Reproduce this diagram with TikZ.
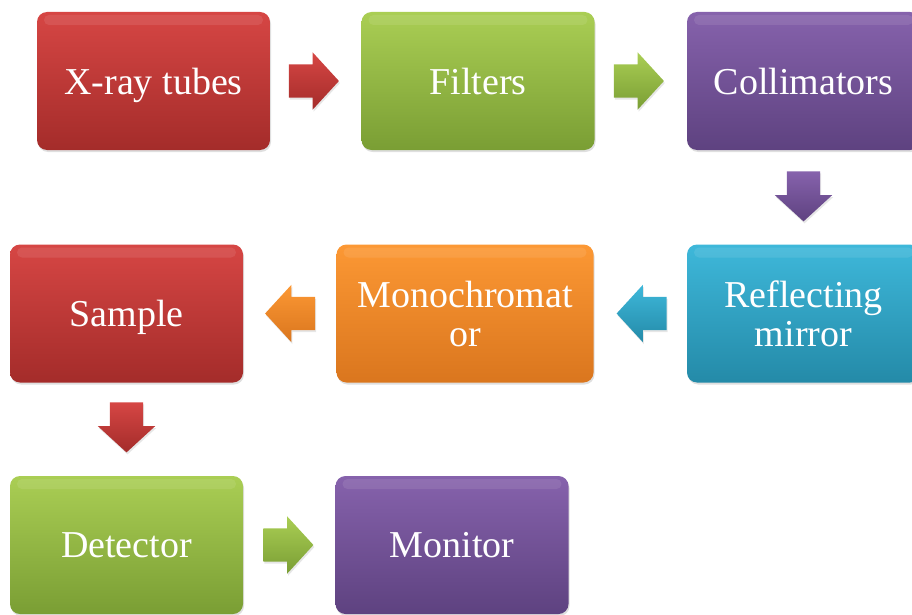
\documentclass[tikz,border=0pt]{standalone}
\usepackage{fontspec}
\setmainfont{Liberation Serif}
\usetikzlibrary{shapes.arrows,shadows,calc}

\definecolor{redtop}{RGB}{214,70,68}
\definecolor{redbot}{RGB}{164,44,42}
\definecolor{greentop}{RGB}{170,206,84}
\definecolor{greenbot}{RGB}{122,158,52}
\definecolor{purpletop}{RGB}{134,98,172}
\definecolor{purplebot}{RGB}{94,66,128}
\definecolor{cyantop}{RGB}{62,184,218}
\definecolor{cyanbot}{RGB}{36,138,168}
\definecolor{orangetop}{RGB}{252,152,52}
\definecolor{orangebot}{RGB}{218,118,30}

\tikzset{
  stage/.style={rounded corners=10pt, minimum width=233pt, minimum height=138pt,
    inner sep=0pt, align=center, text=white, text depth=0pt,
    font=\fontsize{38}{39}\selectfont,
    drop shadow={opacity=0.25, shadow xshift=1pt, shadow yshift=-2pt},
    path picture={\fill[white, opacity=0.09, rounded corners=5pt]
      ([xshift=7pt,yshift=-3pt]path picture bounding box.north west) rectangle
      ([xshift=-7pt,yshift=-13pt]path picture bounding box.north east);}},
  flow/.style={single arrow, inner xsep=0pt, inner ysep=16.5pt, minimum height=50pt,
    single arrow head extend=12pt, single arrow tip angle=95,
    drop shadow={opacity=0.2, shadow xshift=1pt, shadow yshift=-2pt}},
  vflow/.style={flow, inner xsep=16.5pt, inner ysep=0pt, shape border rotate=270},
  red/.style={top color=redtop, bottom color=redbot},
  green/.style={top color=greentop, bottom color=greenbot},
  purple/.style={top color=purpletop, bottom color=purplebot},
  cyan/.style={top color=cyantop, bottom color=cyanbot},
  orange/.style={top color=orangetop, bottom color=orangebot}
}

\begin{document}
\begin{tikzpicture}[x=1pt,y=-1pt]
\useasboundingbox (0,0) rectangle (912,615);
% stages
\node[stage, red] (xray) at (153.5,81) {X-ray tubes};
\node[stage, green] (filters) at (478,81) {Filters};
\node[stage, purple] (coll) at (803.5,81) {Collimators};
\node[stage, cyan] (mirror) at (803.5,313.5) {Reflecting\\mirror};
\node[stage, orange, minimum width=257pt] (mono) at (465,313.5) {Monochromat\\or};
\node[stage, red] (sample) at (126.5,313.5) {Sample};
\node[stage, green] (detector) at (126.5,545) {Detector};
\node[stage, purple] (monitor) at (452,545) {Monitor};
% block arrows
\node[flow, red] (a1) at ($(xray.east)!0.5!(filters.west)+(-9.5,0)$) {};
\node[flow, green] (a2) at ($(filters.east)!0.5!(coll.west)+(-9.5,0)$) {};
\node[vflow, purple] (a3) at ($(coll.south)!0.5!(mirror.north)+(0,-8.5)$) {};
\node[flow, cyan, shape border rotate=180] (a4) at ($(mirror.west)!0.5!(mono.east)+(9,0)$) {};
\node[flow, orange, shape border rotate=180] (a5) at ($(mono.west)!0.5!(sample.east)+(8,0)$) {};
\node[vflow, red] (a6) at ($(sample.south)!0.5!(detector.north)+(0,-9.5)$) {};
\node[flow, green] (a7) at ($(detector.east)!0.5!(monitor.west)+(-8.5,0)$) {};
\end{tikzpicture}
\end{document}
